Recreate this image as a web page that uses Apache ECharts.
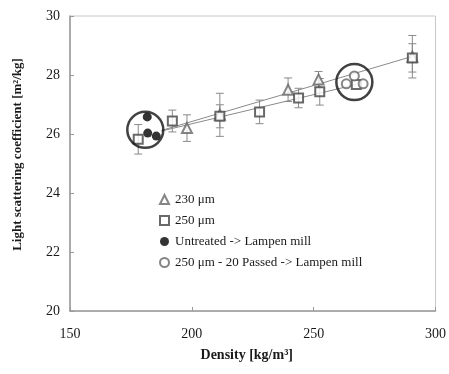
<!DOCTYPE html>
<html>
<head>
<meta charset="utf-8">
<script src="https://cdn.jsdelivr.net/npm/echarts@6/dist/echarts.min.js"></script>
<style>
  html, body { margin: 0; padding: 0; background: #fff; }
  #chart { width: 449px; height: 374px; }
</style>
</head>
<body>
<div id="chart"></div>
<script>
/* ===== data: [density, coefficient, error] ===== */
const um230 = [
    [198, 26.2, 0.45],
    [211.5, 26.65, 0.73],
    [239.5, 27.5, 0.4],
    [252, 27.85, 0.27],
    [290.5, 28.62, 0.72],
];
const um250 = [
    [178, 25.82, 0.5],
    [192, 26.44, 0.37],
    [211.5, 26.6, 0.39],
    [227.8, 26.75, 0.4],
    [243.8, 27.22, 0.33],
    [252.5, 27.43, 0.45],
    [267.5, 27.68, 0],
    [290.5, 28.58, 0.48],
];
const untreated = [
    [181.7, 26.58],
    [181.9, 26.03],
    [185.4, 25.93],
];
const passed = [
    [263.4, 27.7],
    [266.7, 27.97],
    [270.3, 27.7],
];
// trend lines
const trend230 = [[187.5, 26.12], [290.5, 28.63]];
const trend250 = [[187.5, 26.1], [267.5, 27.68]];
// circled groups (centres)
const groupCentres = [[180.9, 26.14], [266.7, 27.76]];

const xTicks = { min: 150, max: 300, step: 50 };
const yTicks = { min: 20, max: 30, step: 2 };

const FONT = "Liberation Serif";

function renderErr(params, api) {
    const x = api.value(0), y = api.value(1), e = api.value(2);
    if (!e) return null;
    const top = api.coord([x, y + e]);
    const bot = api.coord([x, y - e]);
    const w = 4;
    const st = { stroke: "#8a8a8a", lineWidth: 1 };
    return {
        type: "group",
        children: [
            { type: "line", shape: { x1: top[0], y1: top[1], x2: bot[0], y2: bot[1] }, style: st },
            { type: "line", shape: { x1: top[0] - w, y1: top[1], x2: top[0] + w, y2: top[1] }, style: st },
            { type: "line", shape: { x1: bot[0] - w, y1: bot[1], x2: bot[0] + w, y2: bot[1] }, style: st },
        ],
    };
}

const chart = echarts.init(document.getElementById("chart"));
chart.setOption({
    animation: false,
    textStyle: { fontFamily: FONT },
    grid: {
        left: 70, right: 11, top: 16, bottom: 63,
        show: true, borderColor: "#c8c8c8", borderWidth: 1,
    },
    legend: {
        orient: "vertical",
        left: 154, top: 188,
        itemWidth: 9, itemHeight: 9, itemGap: 8,
        textStyle: { fontFamily: FONT, fontSize: 13, color: "#1a1a1a", padding: [0, 0, 0, 1] },
        data: [
            { name: "230 μm", icon: "emptyTriangle", itemStyle: { borderWidth: 1 } },
            { name: "250 μm", icon: "emptyRect", itemStyle: { borderWidth: 1 } },
            { name: "Untreated -> Lampen mill", icon: "circle" },
            { name: "250 μm - 20 Passed -> Lampen mill", icon: "emptyCircle", itemStyle: { borderWidth: 1 } },
        ],
    },
    xAxis: {
        type: "value",
        min: xTicks.min, max: xTicks.max, interval: xTicks.step,
        name: "Density [kg/m³]",
        nameLocation: "middle", nameGap: 37,
        nameTextStyle: { fontFamily: FONT, fontWeight: "bold", fontSize: 14, color: "#1a1a1a", padding: [0, 12, 0, 0] },
        axisLine: { lineStyle: { color: "#999", width: 1.5 } },
        axisTick: { inside: true, length: 4, lineStyle: { color: "#999" } },
        axisLabel: { fontFamily: FONT, fontSize: 14, color: "#1a1a1a", margin: 16 },
        splitLine: { show: false },
    },
    yAxis: {
        type: "value",
        min: yTicks.min, max: yTicks.max, interval: yTicks.step,
        name: "Light scattering coefficient [m²/kg]",
        nameLocation: "middle", nameGap: 46,
        nameTextStyle: { fontFamily: FONT, fontWeight: "bold", fontSize: 13, color: "#1a1a1a", padding: [0, 0, 0, 18] },
        axisLine: { lineStyle: { color: "#999", width: 1.5 } },
        axisTick: { inside: true, length: 4, lineStyle: { color: "#999" } },
        axisLabel: { fontFamily: FONT, fontSize: 14, color: "#1a1a1a", margin: 10 },
        splitLine: { show: false },
    },
    series: [
        {
            type: "line", data: trend230, symbol: "none", silent: true,
            lineStyle: { color: "#8a8a8a", width: 1 }, z: 1,
        },
        {
            type: "line", data: trend250, symbol: "none", silent: true,
            lineStyle: { color: "#8a8a8a", width: 1 }, z: 1,
        },
        { type: "custom", renderItem: renderErr, data: um230, z: 2, silent: true },
        { type: "custom", renderItem: renderErr, data: um250, z: 2, silent: true },
        {
            name: "230 μm", type: "scatter", data: um230,
            symbol: "emptyTriangle", symbolSize: 10,
            itemStyle: { color: "#666", borderWidth: 1.2 }, z: 3,
        },
        {
            name: "250 μm", type: "scatter", data: um250,
            symbol: "emptyRect", symbolSize: 9,
            itemStyle: { color: "#444", borderWidth: 1.8 }, z: 4,
        },
        {
            name: "Untreated -> Lampen mill", type: "scatter", data: untreated,
            symbol: "circle", symbolSize: 9,
            itemStyle: { color: "#000" }, z: 5,
        },
        {
            name: "250 μm - 20 Passed -> Lampen mill", type: "scatter", data: passed,
            symbol: "emptyCircle", symbolSize: 9,
            itemStyle: { color: "#666", borderWidth: 1 }, z: 5,
        },
        {
            type: "scatter", data: groupCentres, silent: true,
            symbol: "circle", symbolSize: 36,
            itemStyle: { color: "transparent", borderColor: "#111", borderWidth: 2.5 }, z: 6,
        },
    ],
});
</script>
</body>
</html>
